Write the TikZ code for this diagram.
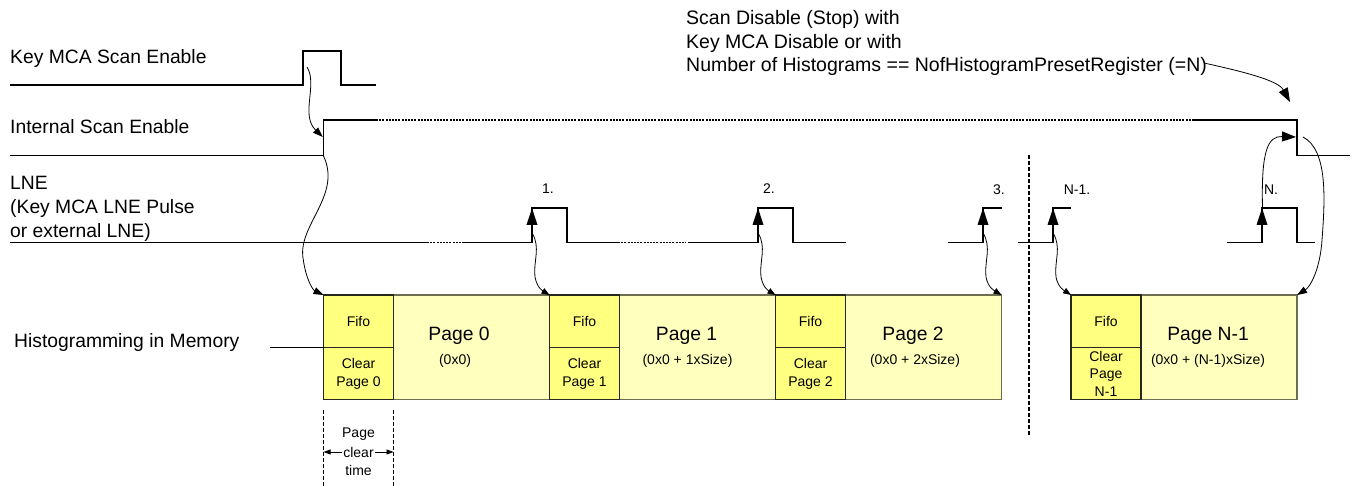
\documentclass[tikz,border=0pt]{standalone}
\usepackage{fontspec}
\setmainfont{Liberation Sans}
\usetikzlibrary{arrows.meta}
\definecolor{fifoY}{RGB}{255,255,128}
\definecolor{pageY}{RGB}{255,255,190}
\definecolor{pageB}{RGB}{110,110,80}
\definecolor{fifoB}{RGB}{40,40,30}
\tikzset{
  sig/.style={line width=1.8pt, line join=miter},
  sigdot/.style={line width=1.8pt, dash pattern=on 2pt off 1.2pt},
  big/.style={font=\fontsize{19.3}{24}\selectfont, inner sep=0pt},
  topnote/.style={font=\fontsize{19.5}{24}\selectfont, inner sep=0pt},
  small/.style={font=\fontsize{14}{18}\selectfont, inner sep=0pt},
  fifobox/.style={draw=fifoB, fill=fifoY, line width=1.1pt, minimum width=70pt,
    inner sep=0pt, outer sep=0pt, anchor=north west, font=\fontsize{14}{18}\selectfont, align=center},
  pagebox/.style={draw=pageB, fill=pageY, line width=1.1pt, minimum width=156pt,
    minimum height=104.3pt, inner sep=0pt, outer sep=0pt, anchor=north west},
  conn/.style={line width=0.8pt, -{Triangle[length=10pt,width=7pt]}},
  connS/.style={line width=0.8pt, -{Triangle[length=8pt,width=6pt]}},
  connB/.style={line width=0.8pt, -{Triangle[length=14pt,width=10pt]}},
  risearrow/.style={line width=1.8pt, -{Triangle[length=17pt,width=10.5pt]}},
  vdash/.style={line width=1.2pt, dash pattern=on 4pt off 2pt},
  ptarrow/.style={line width=0.8pt, -{Triangle[length=7pt,width=5pt]}},
}
\begin{document}
\begin{tikzpicture}[x=1pt,y=-1pt]
\useasboundingbox (0,0) rectangle (1356,486);

% ---- left labels
\node[big, anchor=base west] (lkey) at (10,63.5) {Key MCA Scan Enable};
\node[big, anchor=base west] (lint) at (10,134) {Internal Scan Enable};
\node[big, anchor=base west] (llneA) at (10,190) {LNE};
\node[big, anchor=base west] (llneB) at (10,213.5) {(Key MCA LNE Pulse};
\node[big, anchor=base west] (llneC) at (10,237) {or external LNE)};
\node[big, anchor=base west] (lhist) at (14,347) {Histogramming in Memory};

% ---- top right text
\node[topnote, anchor=base west] (stopA) at (686,25) {Scan Disable (Stop) with};
\node[topnote, anchor=base west] (stopB) at (686,48.5) {Key MCA Disable or with};
\node[topnote, anchor=base west] (stopC) at (686,72) {Number of Histograms == NofHistogramPresetRegister (=N)};

% ---- Key MCA Scan Enable
\draw[sig] (10,85) -- (303,85) -- (303,51) -- (341,51) -- (341,85) -- (376,85);

% ---- Internal Scan Enable
\draw[sig] (10,155.5) -- (323.5,155.5) -- (323.5,120) -- (376,120);
\draw[sigdot] (376,120) -- (1193,120);
\draw[sig] (1193,120) -- (1297,120) -- (1297,155.5) -- (1350,155.5);

% ---- LNE
\draw[sig] (10,242.5) -- (427,242.5);
\draw[sigdot] (427,242.5) -- (462,242.5);
\draw[sig] (462,242.5) -- (532,242.5) -- (532,208) -- (567,208) -- (567,242.5) -- (618,242.5);
\draw[sigdot] (618,242.5) -- (686,242.5);
\draw[sig] (688,242.5) -- (758,242.5) -- (758,208) -- (793,208) -- (793,242.5) -- (846,242.5);
\draw[sig] (948,242.5) -- (983,242.5) -- (983,208) -- (1002,208);
\draw[sig] (1018,242.5) -- (1053,242.5) -- (1053,208) -- (1071,208);
\draw[sig] (1227,242.5) -- (1262,242.5) -- (1262,208) -- (1297,208) -- (1297,242.5) -- (1315,242.5);
\draw[risearrow] (532,232) -- (532,208);
\draw[risearrow] (758,232) -- (758,208);
\draw[risearrow] (983,232) -- (983,208);
\draw[risearrow] (1053,232) -- (1053,208);
\draw[risearrow] (1262,232) -- (1262,208);

% pulse numbers
\node[small] (n1) at (548,189) {1.};
\node[small] (n2) at (769,189) {2.};
\node[small] (n3) at (999,190) {3.};
\node[small] (nN1) at (1077,190) {N-1.};
\node[small] (nN) at (1271,190) {N.};

% ---- separator
\coordinate (sepT) at (1029,155);
\coordinate (sepB) at (1029,435);
\draw[vdash] (sepT) -- (sepB);

% ---- memory blocks
\node[pagebox] (p0) at (393.5,295) {};
\node[fifobox, minimum height=52.7pt] (f0) at (323.5,295) {Fifo};
\node[fifobox, minimum height=51.6pt] (c0) at (323.5,347.7) {Clear\\Page 0};
\node[big] (t0) at (459,336) {Page 0};
\node[small] (s0) at (455,361) {(0x0)};

\node[pagebox] (p1) at (619.5,295) {};
\node[fifobox, minimum height=52.7pt] (f1) at (549.5,295) {Fifo};
\node[fifobox, minimum height=51.6pt] (c1) at (549.5,347.7) {Clear\\Page 1};
\node[big] (t1) at (686.5,336) {Page 1};
\node[small] (s1) at (687.5,361) {(0x0 + 1xSize)};

\node[pagebox] (p2) at (845.5,295) {};
\node[fifobox, minimum height=52.7pt] (f2) at (775.5,295) {Fifo};
\node[fifobox, minimum height=51.6pt] (c2) at (775.5,347.7) {Clear\\Page 2};
\node[big] (t2) at (913,336) {Page 2};
\node[small] (s2) at (915,361) {(0x0 + 2xSize)};

\node[pagebox] (pN) at (1141,295) {};
\node[fifobox, minimum height=52.7pt] (fN) at (1071,295) {Fifo};
\node[fifobox, minimum height=51.6pt, font=\fontsize{14}{17.5}\selectfont] (cN) at (1071,347.7) {Clear\\Page\\N-1};
\node[big] (tN) at (1208,336) {Page N-1};
\node[small] (sN) at (1208,361) {(0x0 + (N-1)xSize)};

\coordinate (histL) at (270,347.7);
\draw[line width=1.1pt] (histL) -- (histL -| f0.west);

% ---- connectors
\coordinate (kp) at (307,67);
\coordinate (irise) at (322.8,137);
\draw[conn] (kp) .. controls (318,85) and (300,115) .. (irise);
\coordinate (ilow) at (323.5,156);
\draw[conn] (ilow) .. controls (342,195) and (298,225) .. (303,258) .. controls (306,280) and (313,290) .. (f0.north west);

\coordinate (r1) at (532,233);
\draw[connS] (r1) .. controls (541,247) and (533,262) .. (535,277) .. controls (537,288) and (543,291) .. (f1.north west);
\coordinate (r2) at (758,233);
\draw[connS] (r2) .. controls (767,247) and (759,262) .. (761,277) .. controls (763,288) and (769,291) .. (f2.north west);
\coordinate (r3) at (983,233);
\draw[connS] (r3) .. controls (992,247) and (984,262) .. (986,277) .. controls (988,288) and (995,291) .. (p2.north east);
\coordinate (rN1) at (1053,233);
\draw[connS] (rN1) .. controls (1062,247) and (1054,262) .. (1056,277) .. controls (1058,288) and (1065,291) .. (fN.north west);

\coordinate (rN) at (1262.5,208);
\coordinate (ifall) at (1296,137);
\draw[connB] (rN) .. controls (1261,150) and (1268,136) .. (ifall);
\coordinate (ifallR) at (1303,137);
\draw[conn] (ifallR) .. controls (1328,150) and (1325,200) .. (1322,240) .. controls (1320,270) and (1310,287) .. (pN.north east);

\coordinate (stopEnd) at (1204,63);
\coordinate (stopTip) at (1290,102);
\draw[connB] (stopEnd) .. controls (1240,71) and (1278,80) .. (stopTip);

% ---- page clear time
\coordinate (dlT) at (323.5,410);
\coordinate (dlB) at (323.5,486);
\coordinate (drT) at (393.5,410);
\coordinate (drB) at (393.5,486);
\draw[vdash, line width=1pt] (dlT) -- (dlB);
\draw[vdash, line width=1pt] (drT) -- (drB);
\node[small] (pcA) at (358.5,434) {Page};
\node[small] (pcB) at (358.5,452) {clear};
\node[small] (pcC) at (358.5,470) {time};
\coordinate (dlM) at (323.5,452);
\coordinate (drM) at (393.5,452);
\draw[ptarrow] ([xshift=-1pt]pcB.west) -- (dlM);
\draw[ptarrow] ([xshift=1pt]pcB.east) -- (drM);
\end{tikzpicture}
\end{document}
